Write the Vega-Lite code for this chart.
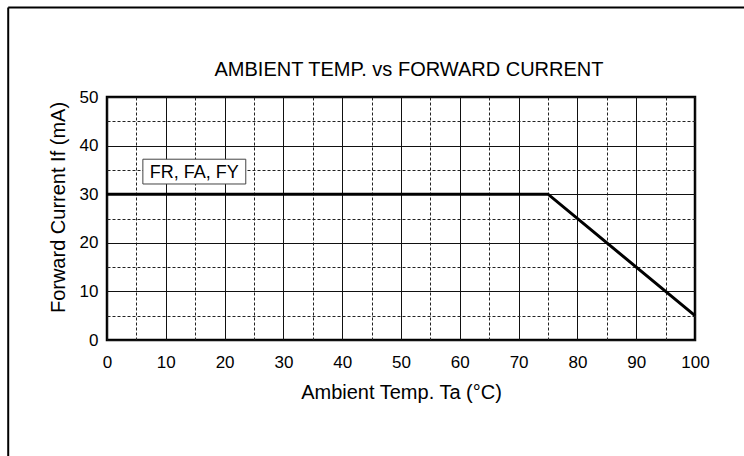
{
  "$schema": "https://vega.github.io/schema/vega-lite/v6.json",
  "width": 588,
  "height": 243,
  "autosize": {"type": "none"},
  "padding": {"left": 107, "top": 97, "right": 49, "bottom": 116},
  "background": "white",
  "title": {
    "text": "AMBIENT TEMP. vs FORWARD CURRENT",
    "font": "Liberation Sans",
    "fontSize": 20,
    "fontWeight": "normal",
    "color": "black",
    "frame": "group",
    "offset": 0,
    "dy": 73,
    "dx": 8
  },
  "config": {
    "view": {"stroke": "black", "strokeWidth": 2.5},
    "axis": {
      "labelFont": "Liberation Sans",
      "titleFont": "Liberation Sans",
      "labelColor": "black",
      "titleColor": "black",
      "titleFontWeight": "normal",
      "ticks": false,
      "domain": false
    },
    "axisX": {"labelFlush": false}
  },
  "datasets": {
    "curve": [
      {"temp": 0, "current": 30},
      {"temp": 75, "current": 30},
      {"temp": 100, "current": 5}
    ],
    "frame": [
      {"x0": -16.8, "x1": 140, "y0": 68.4, "y1": 68.4},
      {"x0": -16.8, "x1": -16.8, "y0": 68.4, "y1": -40}
    ],
    "label": [
      {"x0": 6.1, "x1": 23.6, "y0": 32.1, "y1": 37.2, "xc": 14.85, "yc": 34.65, "name": "FR, FA, FY"}
    ]
  },
  "layer": [
    {
      "data": {"name": "curve"},
      "mark": {"type": "line", "color": "black", "strokeWidth": 3, "strokeJoin": "miter"},
      "encoding": {
        "x": {
          "field": "temp",
          "type": "quantitative",
          "title": "Ambient Temp. Ta (°C)",
          "scale": {"domain": [0, 100], "nice": false},
          "axis": {
            "values": [0, 5, 10, 15, 20, 25, 30, 35, 40, 45, 50, 55, 60, 65, 70, 75, 80, 85, 90, 95, 100],
            "labelExpr": "datum.value % 10 === 0 ? datum.label : ''",
            "labelFontSize": 17,
            "labelFlush": false,
            "labelPadding": 14,
            "titleFontSize": 20,
            "titlePadding": 12,
            "grid": true,
            "gridColor": {"condition": {"test": "datum.value % 10 !== 0", "value": "#222222"}, "value": "#111111"},
            "gridWidth": 1,
            "gridOpacity": 1,
            "gridDash": {"condition": {"test": "datum.value % 10 !== 0", "value": [3, 2]}, "value": []}
          }
        },
        "y": {
          "field": "current",
          "type": "quantitative",
          "title": "Forward Current If (mA)",
          "scale": {"domain": [0, 50], "nice": false},
          "axis": {
            "values": [0, 5, 10, 15, 20, 25, 30, 35, 40, 45, 50],
            "labelExpr": "datum.value % 10 === 0 ? datum.label : ''",
            "labelFontSize": 17,
            "labelPadding": 9,
            "titleFontSize": 20,
            "titlePadding": 11,
            "titleY": 110,
            "grid": true,
            "gridColor": {"condition": {"test": "datum.value % 10 !== 0", "value": "#222222"}, "value": "#111111"},
            "gridWidth": 1,
            "gridOpacity": 1,
            "gridDash": {"condition": {"test": "datum.value % 10 !== 0", "value": [3, 2]}, "value": []}
          }
        }
      }
    },
    {
      "data": {"name": "frame"},
      "mark": {"type": "rule", "color": "black", "strokeWidth": 2, "clip": false},
      "encoding": {
        "x": {
          "field": "x0",
          "type": "quantitative",
          "title": "Ambient Temp. Ta (°C)",
          "axis": {
            "values": [0, 5, 10, 15, 20, 25, 30, 35, 40, 45, 50, 55, 60, 65, 70, 75, 80, 85, 90, 95, 100],
            "labelExpr": "datum.value % 10 === 0 ? datum.label : ''",
            "labelFontSize": 17,
            "labelFlush": false,
            "labelPadding": 14,
            "titleFontSize": 20,
            "titlePadding": 12,
            "grid": true,
            "gridColor": {"condition": {"test": "datum.value % 10 !== 0", "value": "#222222"}, "value": "#111111"},
            "gridWidth": 1,
            "gridOpacity": 1,
            "gridDash": {"condition": {"test": "datum.value % 10 !== 0", "value": [3, 2]}, "value": []}
          }
        },
        "x2": {"field": "x1"},
        "y": {
          "field": "y0",
          "type": "quantitative",
          "title": "Forward Current If (mA)",
          "axis": {
            "values": [0, 5, 10, 15, 20, 25, 30, 35, 40, 45, 50],
            "labelExpr": "datum.value % 10 === 0 ? datum.label : ''",
            "labelFontSize": 17,
            "labelPadding": 9,
            "titleFontSize": 20,
            "titlePadding": 11,
            "titleY": 110,
            "grid": true,
            "gridColor": {"condition": {"test": "datum.value % 10 !== 0", "value": "#222222"}, "value": "#111111"},
            "gridWidth": 1,
            "gridOpacity": 1,
            "gridDash": {"condition": {"test": "datum.value % 10 !== 0", "value": [3, 2]}, "value": []}
          }
        },
        "y2": {"field": "y1"}
      }
    },
    {
      "data": {"name": "label"},
      "mark": {"type": "rect", "fill": "white", "stroke": "#444444", "strokeWidth": 1},
      "encoding": {
        "x": {
          "field": "x0",
          "type": "quantitative",
          "title": "Ambient Temp. Ta (°C)",
          "axis": {
            "values": [0, 5, 10, 15, 20, 25, 30, 35, 40, 45, 50, 55, 60, 65, 70, 75, 80, 85, 90, 95, 100],
            "labelExpr": "datum.value % 10 === 0 ? datum.label : ''",
            "labelFontSize": 17,
            "labelFlush": false,
            "labelPadding": 14,
            "titleFontSize": 20,
            "titlePadding": 12,
            "grid": true,
            "gridColor": {"condition": {"test": "datum.value % 10 !== 0", "value": "#222222"}, "value": "#111111"},
            "gridWidth": 1,
            "gridOpacity": 1,
            "gridDash": {"condition": {"test": "datum.value % 10 !== 0", "value": [3, 2]}, "value": []}
          }
        },
        "x2": {"field": "x1"},
        "y": {
          "field": "y0",
          "type": "quantitative",
          "title": "Forward Current If (mA)",
          "axis": {
            "values": [0, 5, 10, 15, 20, 25, 30, 35, 40, 45, 50],
            "labelExpr": "datum.value % 10 === 0 ? datum.label : ''",
            "labelFontSize": 17,
            "labelPadding": 9,
            "titleFontSize": 20,
            "titlePadding": 11,
            "titleY": 110,
            "grid": true,
            "gridColor": {"condition": {"test": "datum.value % 10 !== 0", "value": "#222222"}, "value": "#111111"},
            "gridWidth": 1,
            "gridOpacity": 1,
            "gridDash": {"condition": {"test": "datum.value % 10 !== 0", "value": [3, 2]}, "value": []}
          }
        },
        "y2": {"field": "y1"}
      }
    },
    {
      "data": {"name": "label"},
      "mark": {"type": "text", "font": "Liberation Sans", "fontSize": 18, "color": "black", "align": "center", "baseline": "middle", "dy": 1},
      "encoding": {
        "x": {
          "field": "xc",
          "type": "quantitative",
          "title": "Ambient Temp. Ta (°C)",
          "axis": {
            "values": [0, 5, 10, 15, 20, 25, 30, 35, 40, 45, 50, 55, 60, 65, 70, 75, 80, 85, 90, 95, 100],
            "labelExpr": "datum.value % 10 === 0 ? datum.label : ''",
            "labelFontSize": 17,
            "labelFlush": false,
            "labelPadding": 14,
            "titleFontSize": 20,
            "titlePadding": 12,
            "grid": true,
            "gridColor": {"condition": {"test": "datum.value % 10 !== 0", "value": "#222222"}, "value": "#111111"},
            "gridWidth": 1,
            "gridOpacity": 1,
            "gridDash": {"condition": {"test": "datum.value % 10 !== 0", "value": [3, 2]}, "value": []}
          }
        },
        "y": {
          "field": "yc",
          "type": "quantitative",
          "title": "Forward Current If (mA)",
          "axis": {
            "values": [0, 5, 10, 15, 20, 25, 30, 35, 40, 45, 50],
            "labelExpr": "datum.value % 10 === 0 ? datum.label : ''",
            "labelFontSize": 17,
            "labelPadding": 9,
            "titleFontSize": 20,
            "titlePadding": 11,
            "titleY": 110,
            "grid": true,
            "gridColor": {"condition": {"test": "datum.value % 10 !== 0", "value": "#222222"}, "value": "#111111"},
            "gridWidth": 1,
            "gridOpacity": 1,
            "gridDash": {"condition": {"test": "datum.value % 10 !== 0", "value": [3, 2]}, "value": []}
          }
        },
        "text": {"field": "name"}
      }
    }
  ]
}
